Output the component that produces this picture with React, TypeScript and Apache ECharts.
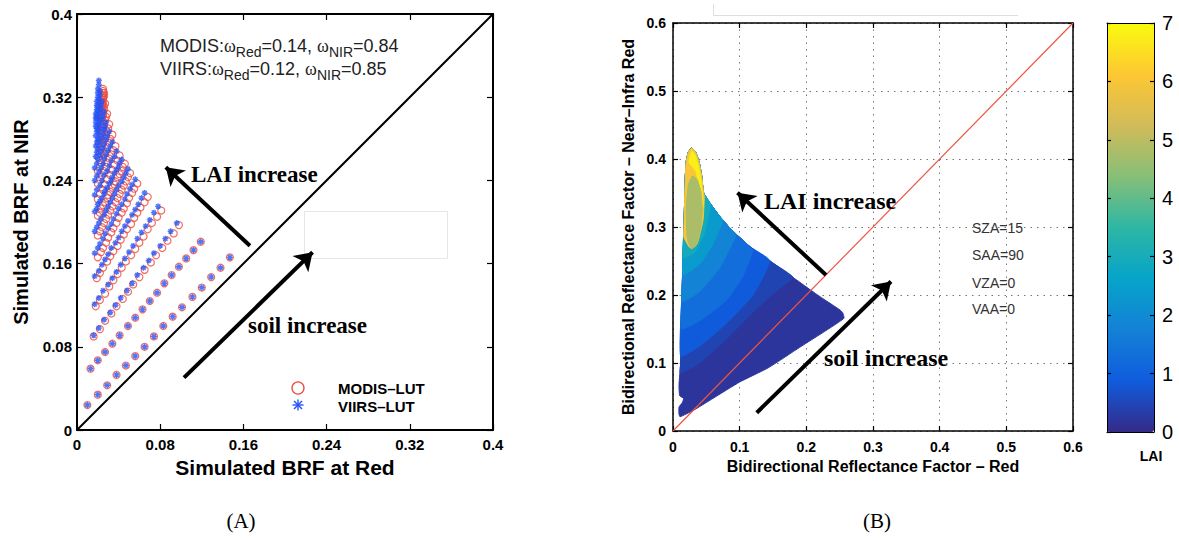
import React, { useEffect, useRef } from 'react';
import * as echarts from 'echarts';

// ---------- Panel (A): LUT scatter, one row per LAI level, points ordered by soil brightness ----------
const L1x = [0.010, 0.020, 0.029, 0.038, 0.047, 0.056, 0.065, 0.074, 0.083, 0.092, 0.101, 0.111, 0.120, 0.129, 0.138, 0.147];
const L1y = [0.024, 0.034, 0.043, 0.053, 0.062, 0.071, 0.080, 0.090, 0.100, 0.109, 0.118, 0.128, 0.137, 0.147, 0.156, 0.166];
const L2x = [0.013, 0.020, 0.027, 0.034, 0.041, 0.049, 0.056, 0.063, 0.070, 0.077, 0.084, 0.091, 0.098, 0.105, 0.112, 0.119];
const L2y = [0.059, 0.067, 0.075, 0.083, 0.091, 0.100, 0.108, 0.116, 0.124, 0.132, 0.141, 0.149, 0.157, 0.165, 0.173, 0.181];

const modisRed: number[][] = [
  L1x, L2x,
  [0.016, 0.022, 0.027, 0.033, 0.038, 0.044, 0.049, 0.054, 0.060, 0.065, 0.071, 0.076, 0.082, 0.087, 0.093, 0.098],
  [0.018, 0.022, 0.027, 0.031, 0.035, 0.039, 0.043, 0.047, 0.052, 0.056, 0.060, 0.064, 0.068, 0.072, 0.077, 0.081],
  [0.019, 0.022, 0.025, 0.029, 0.032, 0.035, 0.039, 0.042, 0.045, 0.048, 0.052, 0.055, 0.058, 0.061, 0.065, 0.068],
  [0.020, 0.023, 0.025, 0.028, 0.030, 0.033, 0.035, 0.038, 0.040, 0.043, 0.045, 0.048, 0.050, 0.053, 0.055, 0.058],
  [0.020, 0.022, 0.024, 0.026, 0.028, 0.030, 0.032, 0.034, 0.037, 0.039, 0.041, 0.043, 0.045, 0.047, 0.049, 0.051],
  [0.020, 0.022, 0.023, 0.025, 0.027, 0.029, 0.030, 0.032, 0.034, 0.036, 0.037, 0.039, 0.041, 0.043, 0.044, 0.046],
  [0.020, 0.022, 0.025, 0.027, 0.029, 0.032, 0.034, 0.036, 0.039, 0.041],
  [0.020, 0.022, 0.024, 0.026, 0.028, 0.029, 0.031, 0.033, 0.035, 0.037],
  [0.020, 0.022, 0.023, 0.025, 0.026, 0.028, 0.029, 0.031, 0.032, 0.034],
  [0.021, 0.022, 0.023, 0.024, 0.025, 0.027, 0.028, 0.029, 0.030, 0.031],
  [0.021, 0.022, 0.023, 0.024, 0.025, 0.025, 0.026, 0.027, 0.028, 0.029],
  [0.022, 0.023, 0.023, 0.024, 0.024, 0.025, 0.025, 0.026, 0.026, 0.027],
  [0.023, 0.023, 0.024, 0.024, 0.024, 0.025, 0.025, 0.025, 0.026, 0.026],
  [0.024, 0.024, 0.024, 0.024, 0.024, 0.025, 0.025, 0.025, 0.025, 0.025],
];
const modisNir: number[][] = [
  L1y, L2y,
  [0.090, 0.097, 0.105, 0.112, 0.119, 0.126, 0.133, 0.140, 0.147, 0.154, 0.161, 0.168, 0.175, 0.182, 0.189, 0.197],
  [0.119, 0.125, 0.131, 0.138, 0.144, 0.150, 0.156, 0.162, 0.168, 0.174, 0.180, 0.186, 0.193, 0.199, 0.205, 0.211],
  [0.146, 0.151, 0.156, 0.162, 0.167, 0.172, 0.177, 0.183, 0.188, 0.193, 0.198, 0.204, 0.209, 0.214, 0.219, 0.224],
  [0.166, 0.171, 0.175, 0.180, 0.185, 0.190, 0.194, 0.199, 0.204, 0.209, 0.213, 0.218, 0.223, 0.228, 0.232, 0.237],
  [0.187, 0.191, 0.195, 0.199, 0.203, 0.207, 0.211, 0.215, 0.219, 0.223, 0.227, 0.231, 0.235, 0.239, 0.243, 0.247],
  [0.206, 0.209, 0.213, 0.216, 0.219, 0.223, 0.226, 0.229, 0.233, 0.236, 0.239, 0.243, 0.246, 0.249, 0.253, 0.256],
  [0.222, 0.227, 0.231, 0.236, 0.241, 0.245, 0.250, 0.255, 0.259, 0.264],
  [0.237, 0.241, 0.245, 0.249, 0.253, 0.257, 0.261, 0.265, 0.269, 0.273],
  [0.249, 0.253, 0.257, 0.261, 0.265, 0.268, 0.272, 0.276, 0.280, 0.284],
  [0.262, 0.266, 0.269, 0.273, 0.276, 0.280, 0.283, 0.287, 0.290, 0.294],
  [0.275, 0.278, 0.281, 0.285, 0.288, 0.291, 0.294, 0.298, 0.301, 0.304],
  [0.288, 0.291, 0.294, 0.297, 0.300, 0.302, 0.305, 0.308, 0.311, 0.314],
  [0.300, 0.303, 0.305, 0.308, 0.311, 0.313, 0.316, 0.319, 0.321, 0.324],
  [0.310, 0.312, 0.314, 0.316, 0.318, 0.320, 0.322, 0.324, 0.326, 0.328],
];
const viirsRed: number[][] = [
  L1x, L2x,
  [0.016, 0.021, 0.026, 0.032, 0.037, 0.042, 0.048, 0.053, 0.058, 0.064, 0.069, 0.074, 0.080, 0.085, 0.090, 0.096],
  [0.017, 0.021, 0.025, 0.030, 0.034, 0.038, 0.042, 0.046, 0.050, 0.054, 0.058, 0.062, 0.066, 0.070, 0.074, 0.078],
  [0.017, 0.021, 0.024, 0.027, 0.030, 0.033, 0.037, 0.040, 0.043, 0.046, 0.049, 0.053, 0.056, 0.059, 0.062, 0.065],
  [0.017, 0.020, 0.022, 0.025, 0.027, 0.030, 0.033, 0.035, 0.038, 0.040, 0.043, 0.046, 0.048, 0.051, 0.053, 0.056],
  [0.017, 0.019, 0.021, 0.023, 0.026, 0.028, 0.030, 0.032, 0.034, 0.036, 0.038, 0.040, 0.043, 0.045, 0.047, 0.049],
  [0.017, 0.019, 0.020, 0.022, 0.024, 0.026, 0.027, 0.029, 0.031, 0.033, 0.034, 0.036, 0.038, 0.040, 0.041, 0.043],
  [0.017, 0.019, 0.022, 0.024, 0.026, 0.029, 0.031, 0.033, 0.036, 0.038],
  [0.017, 0.019, 0.021, 0.023, 0.025, 0.026, 0.028, 0.030, 0.032, 0.034],
  [0.017, 0.019, 0.020, 0.022, 0.023, 0.025, 0.026, 0.028, 0.029, 0.031],
  [0.018, 0.019, 0.020, 0.021, 0.022, 0.024, 0.025, 0.026, 0.027, 0.028],
  [0.018, 0.019, 0.020, 0.021, 0.021, 0.022, 0.023, 0.024, 0.025, 0.026],
  [0.018, 0.019, 0.019, 0.020, 0.021, 0.021, 0.022, 0.023, 0.023, 0.024],
  [0.018, 0.018, 0.019, 0.019, 0.020, 0.020, 0.021, 0.021, 0.022, 0.022],
  [0.018, 0.018, 0.019, 0.019, 0.019, 0.020, 0.020, 0.020, 0.021, 0.021],
];
const viirsNir: number[][] = [
  L1y, L2y,
  [0.091, 0.098, 0.106, 0.113, 0.120, 0.127, 0.134, 0.141, 0.149, 0.156, 0.163, 0.170, 0.177, 0.184, 0.191, 0.199],
  [0.121, 0.127, 0.134, 0.140, 0.146, 0.152, 0.159, 0.165, 0.171, 0.177, 0.184, 0.190, 0.196, 0.202, 0.209, 0.215],
  [0.148, 0.153, 0.159, 0.164, 0.169, 0.175, 0.180, 0.185, 0.191, 0.196, 0.201, 0.207, 0.212, 0.217, 0.223, 0.228],
  [0.170, 0.175, 0.179, 0.184, 0.189, 0.194, 0.198, 0.203, 0.208, 0.213, 0.217, 0.222, 0.227, 0.232, 0.236, 0.241],
  [0.191, 0.195, 0.199, 0.203, 0.207, 0.211, 0.215, 0.219, 0.223, 0.227, 0.231, 0.235, 0.239, 0.243, 0.247, 0.251],
  [0.210, 0.213, 0.217, 0.220, 0.223, 0.227, 0.230, 0.233, 0.237, 0.240, 0.243, 0.247, 0.250, 0.253, 0.257, 0.260],
  [0.226, 0.231, 0.235, 0.240, 0.245, 0.249, 0.254, 0.259, 0.263, 0.268],
  [0.240, 0.244, 0.248, 0.252, 0.256, 0.261, 0.265, 0.269, 0.273, 0.277],
  [0.252, 0.256, 0.260, 0.264, 0.268, 0.271, 0.275, 0.279, 0.283, 0.287],
  [0.263, 0.267, 0.270, 0.274, 0.278, 0.281, 0.285, 0.289, 0.292, 0.296],
  [0.273, 0.277, 0.280, 0.284, 0.288, 0.291, 0.295, 0.299, 0.302, 0.306],
  [0.283, 0.287, 0.290, 0.294, 0.298, 0.301, 0.305, 0.309, 0.312, 0.316],
  [0.292, 0.296, 0.300, 0.303, 0.307, 0.311, 0.315, 0.318, 0.322, 0.326],
  [0.300, 0.304, 0.308, 0.312, 0.316, 0.320, 0.324, 0.328, 0.332, 0.336],
];

const brfAxisMax = 0.4;
const brfTickStep = 0.08;
const leftDiagonal = [[0, 0], [0.4, 0.4]];
const leftArrows = [
  [[0.1663, 0.1772], [0.0854, 0.2527]], // LAI increase
  [[0.1029, 0.0503], [0.2265, 0.1709]], // soil increase
];

// ---------- Panel (B): simulated BRF cloud, as nested LAI regions ----------
const reflMax = 0.6;
const reflStep = 0.1;
const laiMax = 7;
const regionLAI = [0.2, 0.45, 0.85, 1.3, 1.8, 2.4, 2.9, 6.0, 6.8, 4.8];
const regionAll = [
  [0.0105, 0.021], [0.03, 0.03], [0.06, 0.048], [0.1, 0.072], [0.143, 0.093], [0.19, 0.123], [0.23, 0.148], [0.25, 0.161],
  [0.2565, 0.166], [0.2545, 0.174], [0.2505, 0.178], [0.2205, 0.1975], [0.1855, 0.222], [0.1505, 0.2466], [0.1155, 0.271],
  [0.088, 0.2956], [0.0705, 0.315], [0.0555, 0.335], [0.046, 0.35], [0.043, 0.375], [0.0395, 0.394], [0.034, 0.41],
  [0.028, 0.416], [0.023, 0.41], [0.0195, 0.394], [0.018, 0.36], [0.0165, 0.3], [0.0135, 0.2], [0.0115, 0.1],
  [0.009, 0.068], [0.01, 0.052], [0.016, 0.048], [0.014, 0.042], [0.009, 0.035], [0.009, 0.025],
];
const regionLai05 = [
  [0.011, 0.085], [0.04, 0.1], [0.08, 0.135], [0.12, 0.175], [0.16, 0.21], [0.18, 0.226], [0.1505, 0.2466],
  [0.1155, 0.271], [0.088, 0.2956], [0.0705, 0.315], [0.0555, 0.335], [0.046, 0.35], [0.043, 0.375], [0.0395, 0.394],
  [0.034, 0.41], [0.028, 0.416], [0.023, 0.41], [0.0195, 0.394], [0.018, 0.36], [0.0165, 0.3], [0.0135, 0.2], [0.0115, 0.1],
];
const regionLai09 = [
  [0.0115, 0.11], [0.04, 0.125], [0.08, 0.158], [0.12, 0.2], [0.145, 0.2505], [0.1155, 0.271],
  [0.088, 0.2956], [0.0705, 0.315], [0.0555, 0.335], [0.046, 0.35], [0.043, 0.375], [0.0395, 0.394], [0.034, 0.41],
  [0.028, 0.416], [0.023, 0.41], [0.0195, 0.394], [0.018, 0.36], [0.0165, 0.3], [0.0135, 0.2],
];
const regionLai13 = [
  [0.0125, 0.15], [0.04, 0.162], [0.08, 0.192], [0.105, 0.228], [0.12, 0.266], [0.1155, 0.271], [0.088, 0.2956],
  [0.0705, 0.315], [0.0555, 0.335], [0.046, 0.35], [0.043, 0.375], [0.0395, 0.394], [0.034, 0.41], [0.028, 0.416],
  [0.023, 0.41], [0.0195, 0.394], [0.018, 0.36], [0.0165, 0.3], [0.0135, 0.2],
];
const regionLai18 = [
  [0.0135, 0.19], [0.04, 0.205], [0.07, 0.24], [0.095, 0.289], [0.088, 0.2956], [0.0705, 0.315], [0.0555, 0.335],
  [0.046, 0.35], [0.043, 0.375], [0.0395, 0.394], [0.034, 0.41], [0.028, 0.416], [0.023, 0.41], [0.0195, 0.394],
  [0.018, 0.36], [0.0165, 0.3], [0.014, 0.22],
];
const regionLai24 = [
  [0.015, 0.23], [0.04, 0.245], [0.06, 0.275], [0.075, 0.31], [0.0705, 0.315], [0.0555, 0.335], [0.046, 0.35],
  [0.043, 0.375], [0.0395, 0.394], [0.034, 0.41], [0.028, 0.416], [0.023, 0.41], [0.0195, 0.394], [0.018, 0.36], [0.0165, 0.3],
];
const regionLai29 = [
  [0.0155, 0.255], [0.032, 0.262], [0.047, 0.29], [0.056, 0.334], [0.046, 0.35], [0.043, 0.375], [0.0395, 0.394],
  [0.034, 0.41], [0.028, 0.416], [0.023, 0.41], [0.0195, 0.394], [0.018, 0.36], [0.0165, 0.3],
];
const regionLai60 = [
  [0.0165, 0.285], [0.025, 0.27], [0.036, 0.275], [0.045, 0.31], [0.047, 0.345], [0.046, 0.35], [0.043, 0.375],
  [0.0395, 0.394], [0.034, 0.41], [0.028, 0.416], [0.023, 0.41], [0.0195, 0.394], [0.018, 0.36], [0.0165, 0.3],
];
const regionLai68 = [
  [0.024, 0.395], [0.028, 0.412], [0.033, 0.406], [0.038, 0.39], [0.042, 0.37], [0.044, 0.35], [0.045, 0.33],
  [0.043, 0.33], [0.04, 0.36], [0.034, 0.382], [0.028, 0.39],
];
const regionLai48 = [
  [0.021, 0.285], [0.027, 0.268], [0.034, 0.272], [0.041, 0.295], [0.044, 0.325], [0.042, 0.352], [0.036, 0.37],
  [0.029, 0.375], [0.023, 0.362], [0.02, 0.33],
];
const regionPolygons = [
  regionAll, regionLai05, regionLai09, regionLai13, regionLai18, regionLai24, regionLai29, regionLai60, regionLai68, regionLai48,
];
const rightDiagonal = [[0, 0], [0.6, 0.6]];
const rightArrows = [
  [[0.2295, 0.2294], [0.0968, 0.3504]], // LAI increase
  [[0.1256, 0.0269], [0.327, 0.2198]], // soil increase
];
const parula = ['#352a87', '#0f5cdd', '#1481d6', '#06a4ca', '#2eb7a4', '#87bf77', '#d1bb59', '#fec832', '#f9fb0e'];
const geometryLabels = ['SZA=15', 'SAA=90', 'VZA=0', 'VAA=0'];

const W = 1179;
const H = 539;
const sans = "'Liberation Sans', Arial, Helvetica, sans-serif";
const serif = "'Liberation Serif', 'Times New Roman', serif";

export default function App() {
  const ref = useRef<HTMLDivElement>(null);

  useEffect(() => {
    if (!ref.current) return;
    const chart = echarts.init(ref.current, undefined, { renderer: 'svg', width: W, height: H });

    const toPoints = (xs: number[][], ys: number[][]) =>
      xs.flatMap((row, i) => row.map((x, j) => [x, ys[i][j]]));
    const asterisk = 'path://M5,0L5,10M0,5L10,5M1.5,1.5L8.5,8.5M1.5,8.5L8.5,1.5';

    const frameAxis = (gridIndex: number, position: string, max: number, interval: number, lw: number, tickLen: number) => ({
      gridIndex,
      type: 'value',
      min: 0,
      max,
      interval,
      position,
      axisLine: { show: true, onZero: false, lineStyle: { color: '#000', width: lw } },
      axisTick: { show: true, inside: true, length: tickLen, lineStyle: { color: '#000', width: 1.2 } },
      axisLabel: { show: false },
      splitLine: { show: false },
    });

    const labelStyle = (size: number) => ({
      show: true,
      color: '#000',
      fontSize: size,
      fontWeight: 'bold',
      fontFamily: sans,
    });

    const dottedGrid = { show: true, lineStyle: { color: '#777', width: 1, type: [1.5, 5] } };

    const xAxis: any[] = [
      {
        ...frameAxis(0, 'bottom', brfAxisMax, brfTickStep, 2, 6),
        axisLabel: { ...labelStyle(15), margin: 7 },
        name: 'Simulated BRF at Red',
        nameLocation: 'middle',
        nameGap: 25,
        nameTextStyle: { color: '#000', fontSize: 21, fontWeight: 'bold', fontFamily: sans },
      },
      frameAxis(0, 'top', brfAxisMax, brfTickStep, 2, 6),
      {
        ...frameAxis(1, 'bottom', reflMax, reflStep, 1.5, 5),
        axisLabel: { ...labelStyle(14), margin: 9 },
        splitLine: dottedGrid,
        name: 'Bidirectional Reflectance Factor – Red',
        nameLocation: 'middle',
        nameGap: 27,
        nameTextStyle: { color: '#000', fontSize: 16, fontWeight: 'bold', fontFamily: sans },
      },
      frameAxis(1, 'top', reflMax, reflStep, 1.5, 5),
      { ...frameAxis(2, 'bottom', 1, 1, 1, 0), axisTick: { show: false }, z: 10 },
      { ...frameAxis(2, 'top', 1, 1, 1, 0), axisTick: { show: false }, z: 10 },
    ];

    const yAxis: any[] = [
      {
        ...frameAxis(0, 'left', brfAxisMax, brfTickStep, 2, 6),
        axisLabel: { ...labelStyle(15), margin: 5 },
        name: 'Simulated BRF at NIR',
        nameLocation: 'middle',
        nameGap: 46,
        nameTextStyle: { color: '#000', fontSize: 20, fontWeight: 'bold', fontFamily: sans },
      },
      frameAxis(0, 'right', brfAxisMax, brfTickStep, 2, 6),
      {
        ...frameAxis(1, 'left', reflMax, reflStep, 1.5, 5),
        axisLabel: { ...labelStyle(14), margin: 7 },
        splitLine: dottedGrid,
        name: 'Bidirectional Reflectance Factor – Near–Infra Red',
        nameLocation: 'middle',
        nameGap: 37,
        nameTextStyle: { color: '#000', fontSize: 16, fontWeight: 'bold', fontFamily: sans },
      },
      frameAxis(1, 'right', reflMax, reflStep, 1.5, 5),
      {
        ...frameAxis(2, 'right', laiMax, 1, 1, 4),
        axisLabel: { show: true, color: '#000', fontSize: 20, fontFamily: sans, margin: 8 },
        z: 10,
      },
      { ...frameAxis(2, 'left', laiMax, 1, 1, 4), z: 10 },
    ];

    const arrowSeries = (xi: number, data: number[][][], width: number) => ({
      type: 'lines',
      coordinateSystem: 'cartesian2d',
      xAxisIndex: xi,
      yAxisIndex: xi,
      data: data.map((c) => ({ coords: c })),
      symbol: ['none', 'arrow'],
      symbolSize: [15, 17],
      lineStyle: { color: '#000', width, opacity: 1, curveness: 0 },
      silent: true,
      z: 6,
    });

    const annotationRich = {
      a: { fontSize: 18, fontFamily: sans, fill: '#222', lineHeight: 20, verticalAlign: 'top' },
      w: { fontSize: 18, fontFamily: serif, fill: '#222', lineHeight: 20, verticalAlign: 'top' },
      s: { fontSize: 14, fontFamily: sans, fill: '#222', verticalAlign: 'top', padding: [8, 0, 0, 0] },
    };

    const option: any = {
      animation: false,
      backgroundColor: '#fff',
      textStyle: { fontFamily: sans },
      grid: [
        { left: 77, top: 14, width: 416, height: 416 },
        { left: 673, top: 23, width: 400, height: 408 },
        { left: 1107, top: 23, width: 47, height: 409 },
      ],
      xAxis,
      yAxis,
      visualMap: {
        type: 'continuous',
        min: 0,
        max: laiMax,
        seriesIndex: 4,
        dimension: 1,
        orient: 'vertical',
        left: 1107,
        top: 23,
        itemWidth: 47,
        itemHeight: 409,
        padding: 0,
        calculable: false,
        hoverLink: false,
        inRange: { color: parula },
        z: 2,
      },
      series: [
        {
          type: 'line',
          xAxisIndex: 0,
          yAxisIndex: 0,
          data: leftDiagonal,
          symbol: 'none',
          lineStyle: { color: '#000', width: 2 },
          silent: true,
          z: 1,
        },
        {
          name: 'MODIS–LUT',
          type: 'scatter',
          xAxisIndex: 0,
          yAxisIndex: 0,
          data: toPoints(modisRed, modisNir),
          symbol: 'circle',
          symbolSize: 7,
          itemStyle: { color: 'rgba(255,255,255,0)', borderColor: '#ec4a3c', borderWidth: 1.2 },
          z: 2,
        },
        {
          name: 'VIIRS–LUT',
          type: 'scatter',
          xAxisIndex: 0,
          yAxisIndex: 0,
          data: toPoints(viirsRed, viirsNir),
          symbol: asterisk,
          symbolSize: 6,
          itemStyle: { color: '#2452f6', borderColor: '#2452f6', borderWidth: 1.4 },
          z: 3,
        },
        arrowSeries(0, leftArrows, 4),
        {
          type: 'custom',
          name: 'LAI',
          xAxisIndex: 2,
          yAxisIndex: 2,
          dimensions: ['layer', 'LAI'],
          data: regionLAI.map((v, i) => [i, v]),
          renderItem: (params: any, api: any) => {
            const poly = regionPolygons[api.value(0)];
            const points = poly.map((p) => api.coord(p));
            return {
              type: 'polygon',
              shape: { points, smooth: 0.15 },
              style: { fill: api.visual('color'), stroke: api.visual('color'), lineWidth: 1 },
            };
          },
          silent: true,
          z: 2,
        },
        {
          type: 'line',
          xAxisIndex: 2,
          yAxisIndex: 2,
          data: rightDiagonal,
          symbol: 'none',
          lineStyle: { color: '#ee5544', width: 1.2 },
          silent: true,
          z: 5,
        },
        arrowSeries(2, rightArrows, 4),
      ],
      graphic: [
        // faint artefacts of the original figure
        { type: 'rect', shape: { x: 304.5, y: 211.5, width: 143, height: 47 }, style: { fill: 'none', stroke: '#e6e6e6', lineWidth: 1 }, silent: true },
        { type: 'polyline', shape: { points: [[713.5, 4], [713.5, 15.5], [1018, 15.5]] }, style: { fill: 'none', stroke: '#dedede', lineWidth: 1 }, silent: true },
        // panel A annotation
        {
          type: 'text', x: 160, y: 37, z: 100,
          style: {
            text: '{a|MODIS:}{w|ω}{s|Red}{a|=0.14, }{w|ω}{s|NIR}{a|=0.84}',
            verticalAlign: 'top',
            align: 'left',
            rich: annotationRich,
          },
        },
        {
          type: 'text', x: 160, y: 60, z: 100,
          style: {
            text: '{a|VIIRS:}{w|ω}{s|Red}{a|=0.12, }{w|ω}{s|NIR}{a|=0.85}',
            verticalAlign: 'top',
            align: 'left',
            rich: annotationRich,
          },
        },
        { type: 'text', x: 191, y: 174, z: 100, style: { text: 'LAI increase', fontSize: 23, fontWeight: 'bold', fontFamily: serif, fill: '#000', verticalAlign: 'middle', align: 'left' } },
        { type: 'text', x: 248, y: 325, z: 100, style: { text: 'soil increase', fontSize: 23, fontWeight: 'bold', fontFamily: serif, fill: '#000', verticalAlign: 'middle', align: 'left' } },
        // panel A legend
        { type: 'circle', z: 100, shape: { cx: 298, cy: 388, r: 6 }, style: { fill: 'none', stroke: '#ec4a3c', lineWidth: 1.3 } },
        {
          type: 'group', z: 100,
          children: [
            { type: 'line', shape: { x1: 292.5, y1: 405, x2: 303.5, y2: 405 }, style: { stroke: '#2452f6', lineWidth: 1.4 } },
            { type: 'line', shape: { x1: 298, y1: 399.5, x2: 298, y2: 410.5 }, style: { stroke: '#2452f6', lineWidth: 1.4 } },
            { type: 'line', shape: { x1: 294, y1: 401, x2: 302, y2: 409 }, style: { stroke: '#2452f6', lineWidth: 1.4 } },
            { type: 'line', shape: { x1: 294, y1: 409, x2: 302, y2: 401 }, style: { stroke: '#2452f6', lineWidth: 1.4 } },
          ],
        },
        { type: 'text', x: 338, y: 388, z: 100, style: { text: 'MODIS–LUT', fontSize: 15, fontWeight: 'bold', fontFamily: sans, fill: '#000', verticalAlign: 'middle', align: 'left' } },
        { type: 'text', x: 338, y: 406, z: 100, style: { text: 'VIIRS–LUT', fontSize: 15, fontWeight: 'bold', fontFamily: sans, fill: '#000', verticalAlign: 'middle', align: 'left' } },
        // panel B annotations
        { type: 'text', x: 764, y: 201, z: 100, style: { text: 'LAI increase', fontSize: 24, fontWeight: 'bold', fontFamily: serif, fill: '#000', verticalAlign: 'middle', align: 'left' } },
        { type: 'text', x: 824, y: 358, z: 100, style: { text: 'soil increase', fontSize: 24, fontWeight: 'bold', fontFamily: serif, fill: '#000', verticalAlign: 'middle', align: 'left' } },
        ...geometryLabels.map((t, i) => ({
          type: 'text', x: 972, y: [228, 255, 283, 309][i], z: 100,
          style: { text: t, fontSize: 14, fontFamily: sans, fill: '#333', verticalAlign: 'middle', align: 'left' },
        })),
        { type: 'text', x: 1151, y: 456, z: 100, style: { text: 'LAI', fontSize: 14, fontWeight: 'bold', fontFamily: sans, fill: '#000', verticalAlign: 'middle', align: 'center' } },
        // captions
        { type: 'text', x: 241, y: 521, z: 100, style: { text: '(A)', fontSize: 21, fontFamily: serif, fill: '#000', verticalAlign: 'middle', align: 'center' } },
        { type: 'text', x: 877, y: 521, z: 100, style: { text: '(B)', fontSize: 21, fontFamily: serif, fill: '#000', verticalAlign: 'middle', align: 'center' } },
      ],
    };

    chart.setOption(option);
    return () => chart.dispose();
  }, []);

  return (
    <div
      ref={ref}
      style={{ position: 'fixed', left: 0, top: 0, width: W, height: H, background: '#fff' }}
    />
  );
}
